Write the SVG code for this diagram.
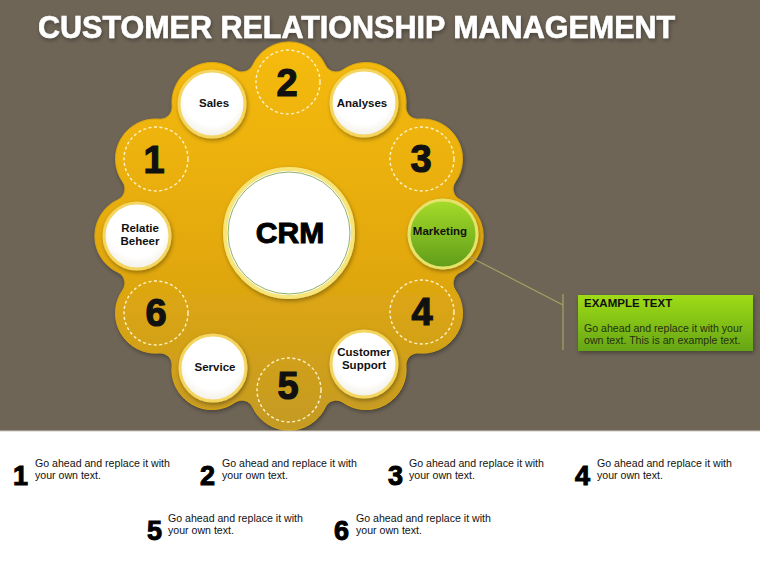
<svg xmlns="http://www.w3.org/2000/svg" width="760" height="570" viewBox="0 0 760 570">
<defs>
<linearGradient id="gold" x1="0" y1="0" x2="0" y2="1">
<stop offset="0" stop-color="#f6bb0c"/>
<stop offset="0.55" stop-color="#e3a90c"/>
<stop offset="1" stop-color="#c49a24"/>
</linearGradient>
<linearGradient id="green" x1="0" y1="0" x2="0" y2="1">
<stop offset="0" stop-color="#a6dc2a"/>
<stop offset="1" stop-color="#5f9c1a"/>
</linearGradient>
<linearGradient id="boxg" x1="0" y1="0" x2="0" y2="1">
<stop offset="0" stop-color="#9fdc14"/>
<stop offset="1" stop-color="#66a515"/>
</linearGradient>
<radialGradient id="whiteg" cx="0.5" cy="0.4" r="0.6">
<stop offset="0.7" stop-color="#ffffff"/>
<stop offset="1" stop-color="#f1efe6"/>
</radialGradient>
<filter id="sh" x="-20%" y="-20%" width="140%" height="140%">
<feDropShadow dx="1" dy="2" stdDeviation="2" flood-color="#000" flood-opacity="0.35"/>
</filter>
</defs>
<style>
.title{font-family:"Liberation Sans",Arial,sans-serif;font-weight:bold;font-size:30.5px;fill:#fff;stroke:#fff;stroke-width:0.6}
.lbl{font-family:"Liberation Sans",Arial,sans-serif;font-weight:bold;font-size:11.5px;fill:#111;text-anchor:middle}
.num{font-family:"Liberation Sans",Arial,sans-serif;font-weight:bold;font-size:38px;fill:#111;stroke:#111;stroke-width:1.2;text-anchor:middle}
.wc{fill:url(#whiteg);stroke:#f3d560;stroke-width:3}
.dc{fill:none;stroke:#fff3c8;stroke-width:1.4;stroke-dasharray:3 2.5}
.bnum{font-family:"Liberation Sans",Arial,sans-serif;font-weight:bold;font-size:27px;fill:#000;stroke:#000;stroke-width:1}
.btxt{font-family:"Liberation Sans",Arial,sans-serif;font-size:10.6px;fill:#111}
.conn{stroke:#a4a464;stroke-width:1.2;fill:none}
</style>
<rect x="0" y="0" width="760" height="570" fill="#6e6557"/>
<text class="title" x="38" y="38" filter="url(#sh)">CUSTOMER RELATIONSHIP MANAGEMENT</text>

<ellipse cx="290" cy="442" rx="30" ry="13" fill="#a89040" opacity="0.6"/>

<g id="wheel">
<path filter="url(#sh)" fill="url(#gold)" stroke="#d9a612" stroke-width="1" d="M 252.68 65.13 A 40 40 0 0 1 325.32 65.13 A 12 12 0 0 0 342.98 69.84 A 40 40 0 0 1 405.89 106.18 A 12 12 0 0 0 418.82 119.11 A 40 40 0 0 1 455.16 182.02 A 12 12 0 0 0 459.87 199.68 A 40 40 0 0 1 459.87 272.32 A 12 12 0 0 0 455.16 289.98 A 40 40 0 0 1 418.82 352.89 A 12 12 0 0 0 405.89 365.82 A 40 40 0 0 1 342.98 402.16 A 12 12 0 0 0 325.32 406.87 A 40 40 0 0 1 252.68 406.87 A 12 12 0 0 0 235.02 402.16 A 40 40 0 0 1 172.11 365.82 A 12 12 0 0 0 159.18 352.89 A 40 40 0 0 1 122.84 289.98 A 12 12 0 0 0 118.13 272.32 A 40 40 0 0 1 118.13 199.68 A 12 12 0 0 0 122.84 182.02 A 40 40 0 0 1 159.18 119.11 A 12 12 0 0 0 172.11 106.18 A 40 40 0 0 1 235.02 69.84 A 12 12 0 0 0 252.68 65.13 Z"/>
</g>

<g id="crm">
<circle cx="289" cy="233" r="64" fill="#fff" stroke="#f7e57a" stroke-width="4" filter="url(#sh)"/>
<circle cx="289" cy="233" r="61" fill="none" stroke="#8db06a" stroke-width="1"/>
<text x="290" y="243" font-family="'Liberation Sans',Arial,sans-serif" font-weight="bold" font-size="30" fill="#000" stroke="#000" stroke-width="1" text-anchor="middle">CRM</text>
</g>

<g id="n2"><circle class="dc" cx="288" cy="82" r="32"/><text class="num" x="287" y="96">2</text></g>
<g id="analyses"><circle class="wc" cx="364" cy="103" r="33" filter="url(#sh)"/><text class="lbl" x="362" y="107">Analyses</text></g>
<g id="n3"><circle class="dc" cx="422" cy="159" r="32"/><text class="num" x="421" y="172">3</text></g>
<g id="marketing"><circle cx="443" cy="234" r="34" fill="url(#green)" stroke="#e6e36a" stroke-width="3" filter="url(#sh)"/><text class="lbl" x="440" y="235">Marketing</text></g>
<g id="n4"><circle class="dc" cx="422" cy="312" r="32"/><text class="num" x="422" y="325">4</text></g>
<g id="support"><circle class="wc" cx="364" cy="364" r="33" filter="url(#sh)"/><text class="lbl" x="364" y="356">Customer</text><text class="lbl" x="364" y="369">Support</text></g>
<g id="n5"><circle class="dc" cx="289" cy="390" r="32"/><text class="num" x="288" y="399">5</text></g>
<g id="service"><circle class="wc" cx="213" cy="368" r="33" filter="url(#sh)"/><text class="lbl" x="215" y="371">Service</text></g>
<g id="n6"><circle class="dc" cx="156" cy="313" r="32"/><text class="num" x="156" y="326">6</text></g>
<g id="relatie"><circle class="wc" cx="137" cy="236" r="33" filter="url(#sh)"/><text class="lbl" x="140" y="232">Relatie</text><text class="lbl" x="140" y="245">Beheer</text></g>
<g id="n1"><circle class="dc" cx="156" cy="159" r="32"/><text class="num" x="154" y="173">1</text></g>
<g id="sales"><circle class="wc" cx="212" cy="104" r="33" filter="url(#sh)"/><text class="lbl" x="214" y="107">Sales</text></g>

<g id="connectors">
<line class="conn" x1="470" y1="257" x2="563" y2="305"/>
<line class="conn" x1="563" y1="294" x2="563" y2="350"/>
</g>

<g id="example">
<rect x="578" y="295" width="175" height="56" fill="url(#boxg)" filter="url(#sh)"/>
<text x="584" y="307" font-family="'Liberation Sans',Arial,sans-serif" font-weight="bold" font-size="11.5" fill="#111">EXAMPLE TEXT</text>
<text x="584" y="332" font-family="'Liberation Sans',Arial,sans-serif" font-size="10.6" fill="#243010">Go ahead and replace it with your</text>
<text x="584" y="344" font-family="'Liberation Sans',Arial,sans-serif" font-size="10.6" fill="#243010">own text. This is an example text.</text>
</g>

<rect x="0" y="431" width="760" height="139" fill="#fff"/>
<line x1="0" y1="431" x2="760" y2="431" stroke="#cfcac2" stroke-width="1"/>

<g id="item1"><text class="bnum" x="13" y="485">1</text><text class="btxt" x="35" y="467">Go ahead and replace it with</text><text class="btxt" x="35" y="479">your own text.</text></g>
<g id="item2"><text class="bnum" x="200" y="485">2</text><text class="btxt" x="222" y="467">Go ahead and replace it with</text><text class="btxt" x="222" y="479">your own text.</text></g>
<g id="item3"><text class="bnum" x="388" y="485">3</text><text class="btxt" x="409" y="467">Go ahead and replace it with</text><text class="btxt" x="409" y="479">your own text.</text></g>
<g id="item4"><text class="bnum" x="575" y="485">4</text><text class="btxt" x="597" y="467">Go ahead and replace it with</text><text class="btxt" x="597" y="479">your own text.</text></g>
<g id="item5"><text class="bnum" x="147" y="540">5</text><text class="btxt" x="168" y="522">Go ahead and replace it with</text><text class="btxt" x="168" y="534">your own text.</text></g>
<g id="item6"><text class="bnum" x="334" y="540">6</text><text class="btxt" x="356" y="522">Go ahead and replace it with</text><text class="btxt" x="356" y="534">your own text.</text></g>
</svg>
